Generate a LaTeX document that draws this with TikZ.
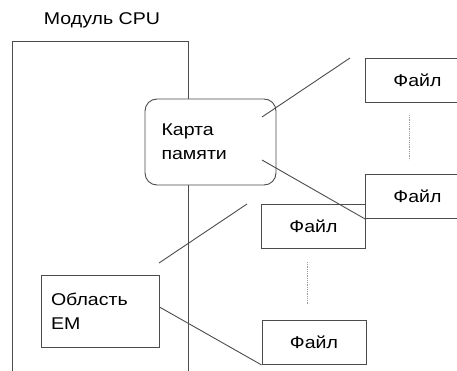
\documentclass[tikz,border=0pt]{standalone}
\usepackage{fontspec}
\setmainfont{Liberation Sans}[FakeStretch=1.15]
\begin{document}
\begin{tikzpicture}[
  x=1pt, y=-1pt,
  every node/.style={font=\fontsize{17}{24}\selectfont},
  line/.style={draw=black!70, line width=0.9pt},
  memo/.style={line, text width=98, inner xsep=10, align=left},
  filebox/.style={line, minimum width=104, minimum height=44, inner sep=0},
  gap/.style={draw=black!40, line width=0.8pt, densely dotted}
]
\clip (0,0) rectangle (457,371);
% module frame
\node (title) at (102,20) {Модуль CPU};
\draw[line] (12,371) |- (188,41) -- (188,371);
% memory map and EM area
\node[memo, rounded corners=12, fill=white, minimum width=131, minimum height=86]
  (map) at (210.5,142) {Карта\\памяти};
\node[memo, minimum height=72] (em) at (100,311) {Область\\EM};
% files
\node[filebox, anchor=west] (fileA) at (365,80) {Файл};
\node[filebox, anchor=west] (fileB) at (365,196.5) {Файл};
\node[filebox] (fileC) at (313.5,226) {Файл};
\node[filebox] (fileD) at (314,342.5) {Файл};
% free ends
\coordinate (mapA) at (262,117);
\coordinate (endA) at (350,58);
\coordinate (mapB) at (262,160);
\coordinate (emA) at (159,263);
\coordinate (endB) at (247,204);
\coordinate (gapA1) at (409,115);
\coordinate (gapA2) at (409,160);
\coordinate (gapB1) at (307,262);
\coordinate (gapB2) at (307,305);
% connectors
\draw[line] (mapA) -- (endA);
\draw[line] (mapB) -- (fileB.south west);
\draw[line] (emA) -- (endB);
\draw[line] ([yshift=4pt]em.east) -- (fileD.south west);
\draw[gap] (gapA1) -- (gapA2);
\draw[gap] (gapB1) -- (gapB2);
\end{tikzpicture}
\end{document}
